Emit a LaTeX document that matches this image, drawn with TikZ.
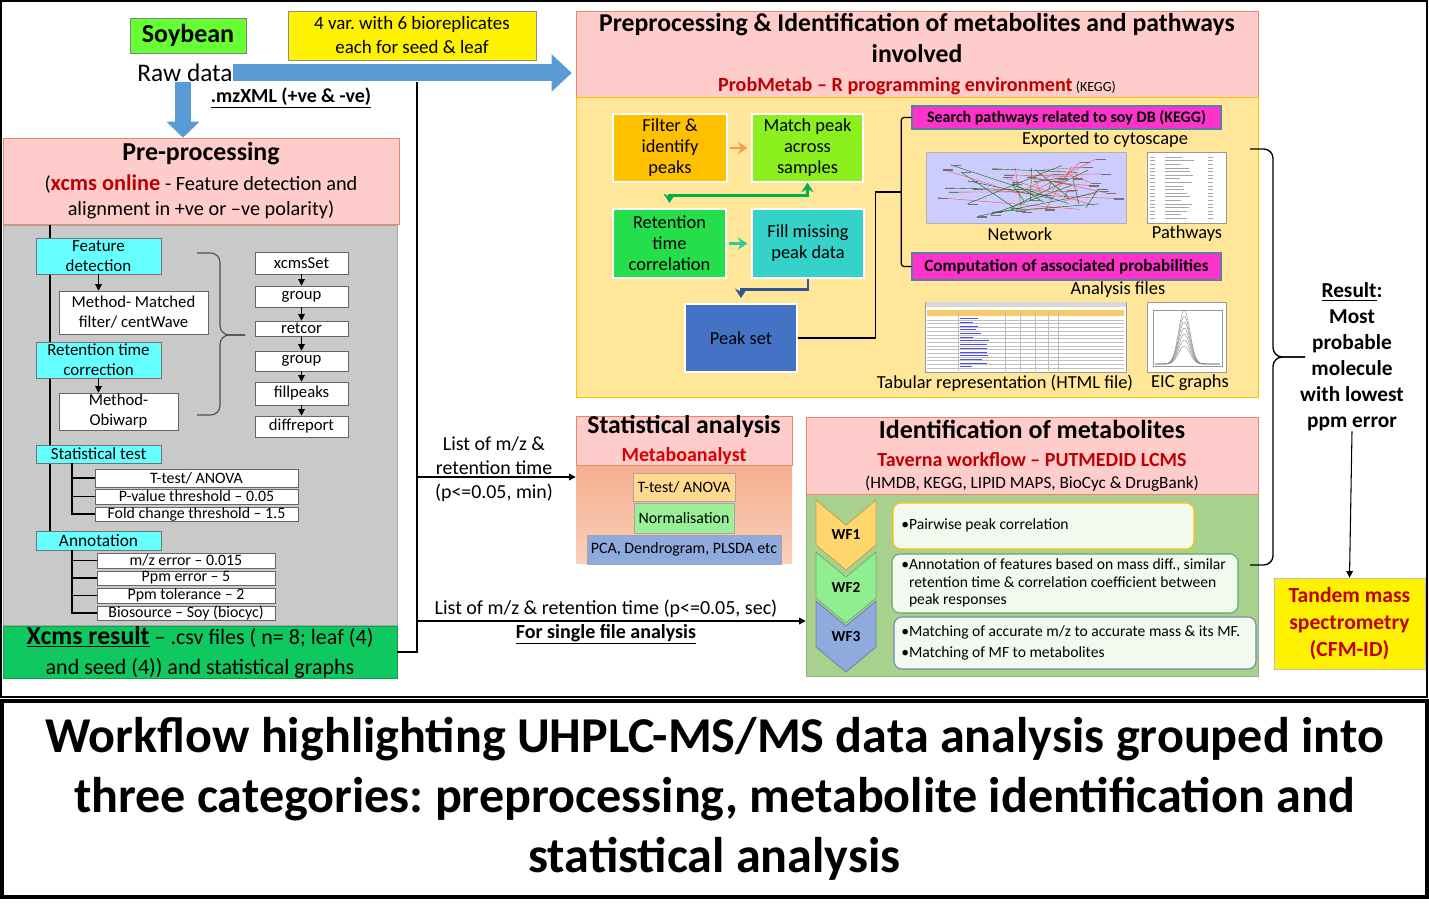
\documentclass[tikz,border=0pt]{standalone}
\usepackage{fontspec}
\setmainfont{Carlito}
\usetikzlibrary{arrows.meta,calc}

\newcommand{\fsz}[2]{\fontsize{#1}{#2}\selectfont}

\definecolor{soygreen}{HTML}{66FF33}
\definecolor{arrowblue}{HTML}{5B9BD5}
\definecolor{headpink}{HTML}{FFCCCC}
\definecolor{headline}{HTML}{E9856A}
\definecolor{panelgray}{HTML}{C9C9C9}
\definecolor{cyanfill}{HTML}{66FFFF}
\definecolor{resgreen}{HTML}{10C860}
\definecolor{darkred}{HTML}{C00000}
\definecolor{brightred}{HTML}{D80000}
\definecolor{panelyellow}{HTML}{FFE699}
\definecolor{gold}{HTML}{FFC000}
\definecolor{matchgreen}{HTML}{8CF01E}
\definecolor{rtgreen}{HTML}{24DE4B}
\definecolor{fillteal}{HTML}{34D2C8}
\definecolor{peakblue}{HTML}{4472C4}
\definecolor{orangearrow}{HTML}{F79A50}
\definecolor{flowgreen}{HTML}{00B050}
\definecolor{tealarrow}{HTML}{2CC9A0}
\definecolor{linkblue}{HTML}{2F5597}
\definecolor{magentabox}{HTML}{FF33CC}
\definecolor{magline}{HTML}{5B7FA0}
\definecolor{lavender}{HTML}{CCCCFF}
\definecolor{tabhead}{HTML}{F9C96A}
\definecolor{salmontop}{HTML}{F4AE8E}
\definecolor{salmonbot}{HTML}{FAD0BB}
\definecolor{ttestorange}{HTML}{FFD98F}
\definecolor{normgreen}{HTML}{99F099}
\definecolor{pcablue}{HTML}{8FAADC}
\definecolor{idgreen}{HTML}{A9D18E}
\definecolor{wfone}{HTML}{FFD56E}
\definecolor{wftwo}{HTML}{90EE90}
\definecolor{wfthree}{HTML}{8FAADC}
\definecolor{wfboxfill}{HTML}{F2F9EF}

\begin{document}
\frenchspacing
\begin{tikzpicture}[x=0.75pt, y=-0.75pt,
    every node/.style={inner sep=0pt},
    area/.style args={#1/#2/#3/#4}{at={({(#1+#3)/2},{(#2+#4)/2})},
      minimum width={(#3-#1)*0.75pt}, minimum height={(#4-#2)*0.75pt}},
    head/.style={fill=headpink, draw=headline, align=center},
    cyanbox/.style={fill=cyanfill, draw=black!55, align=center, font=\fsz{12.7}{15}},
    whitebox/.style={fill=white, draw=black!60, align=center, font=\fsz{12.5}{15}},
    treebox/.style={fill=white, draw=black!60, font=\fsz{11.9}{12}},
    flowbox/.style={draw=white, line width=1pt, align=center, font=\fsz{13.8}{15.75}},
    magbox/.style={fill=magentabox, draw=magline, line width=1pt, font=\bfseries\fsz{12}{13}},
    statbox/.style={draw=black!35, font=\fsz{11.9}{13}},
    wfbox/.style={fill=wfboxfill, rounded corners=6pt, line width=0.8pt},
    wftext/.style={anchor=west, align=left, font=\fsz{11.7}{13.2}},
    lbl/.style={font=\fsz{13.8}{15}},
    fatarrow/.style={draw=arrowblue, line width=12.75pt, -{Triangle[length=15pt,width=27pt]}},
    tip/.style={-{Triangle[length=5pt,width=5pt]}, line width=0.8pt},
    thickarrow/.style={line width=2.2pt, -{Stealth[length=7pt,width=9pt]}},
    bracket/.style={line width=1pt, rounded corners=7pt}]

\useasboundingbox (0,0) rectangle (1429,919);
\fill[white] (0,0) rectangle (1429,919);

% Outer frame and caption
\draw[line width=0.8pt] (1,1) rectangle (1427,697);
\node[area=2/701/1427/897, draw, line width=2.5pt, align=center,
      font=\bfseries\fsz{37.6}{45}] (caption)
  {Workflow highlighting UHPLC-MS/MS data analysis grouped into\\three categories: preprocessing, metabolite identification and\\statistical analysis};

% Raw data input
\node[area=130/18/246/53, fill=soygreen, draw=black!50, font=\bfseries\fsz{19.5}{20}] (soy) {Soybean};
\node[font=\fsz{19}{22}] (raw) at (185,73) {Raw data};
\node[area=288/11/536/60, fill=yellow, draw=black!45, align=center, font=\fsz{14.2}{18}] (var)
  {4 var. with 6 bioreplicates\\each for seed \& leaf};
\node[font=\bfseries\fsz{14.9}{16}] (mzxml) at (291,98) {\underline{.mzXML (+ve \& -ve)}};

% Pre-processing header and panel
\node[head, area=3/138/399/224, font=\fsz{15.2}{19}] (prehead)
  {{\bfseries\fsz{19.4}{22}Pre-processing}\\[3pt]({\bfseries\fsz{16.8}{19}\color{darkred}xcms online} - Feature detection and\\alignment in +ve or –ve polarity)};
\node[area=3/225/397/625, fill=panelgray, draw=black!35] (xpanel) {};

% Tree spine
\coordinate (spine) at (50,225);
\draw[line width=0.8pt] (spine) -- ++(0,306);

% Feature detection and retention time steps
\node[cyanbox, area=36/238/161/274] (featdet) {Feature\\detection};
\node[whitebox, area=59/291/208/334] (matched) {Method- Matched\\filter/ centWave};
\node[cyanbox, area=36/342/161/378] (rtcorr) {Retention time\\correction};
\node[whitebox, area=59/393/178/430] (obiwarp) {Method-\\Obiwarp};
\draw[tip] (featdet.south) -- (featdet.south |- matched.north);
\draw[tip] (rtcorr.south) -- (rtcorr.south |- obiwarp.north);

% xcms commands
\foreach \n/\t/\ya/\yb in {s1/xcmsSet/252/274, s2/group/286/307, s3/retcor/321/336,
                           s4/group/351/371, s5/fillpeaks/382/405, s6/diffreport/416/437}
  \node[whitebox, font=\fsz{12.5}{13}, area=255/\ya/348/\yb] (\n) {\t};
\foreach \a/\b in {s1/s2, s2/s3, s3/s4, s4/s5, s5/s6}
  \draw[tip] (\a) -- (\b);

\coordinate (bracetop) at (197,253);
\coordinate (bracebot) at (197,415);
\draw[bracket, black!70, line width=0.8pt] (bracetop) -- ++(23,0) -- ++(0,82) -- ++(25,0);
\draw[bracket, black!70, line width=0.8pt] (bracebot) -- ++(23,0) -- ++(0,-80) -- ++(25,0);

% Statistical test
\node[cyanbox, area=36/445/161/463] (stattest) {Statistical test};
\foreach \n/\t/\ya/\yb in {t1/{T-test/ ANOVA}/469/487, t2/{P-value threshold – 0.05}/489/504,
                           t3/{Fold change threshold – 1.5}/507/521}
  \node[treebox, area=95/\ya/298/\yb] (\n) {\t};
\coordinate (stbranch) at (72,463);
\foreach \n in {t1,t2,t3}
  \draw[line width=0.8pt] (stbranch) |- (\n.west);

% Annotation
\node[cyanbox, font=\fsz{13}{13}, area=36/531/161/550] (annot) {Annotation};
\foreach \n/\t/\ya/\yb in {a1/{m/z error – 0.015}/553/568, a2/{Ppm error – 5}/571/585,
                           a3/{Ppm tolerance – 2}/588/603, a4/{Biosource – Soy (biocyc)}/606/620}
  \node[treebox, area=97/\ya/275/\yb] (\n) {\t};
\coordinate (anbranch) at (72,550);
\foreach \n in {a1,a2,a3,a4}
  \draw[line width=0.8pt] (anbranch) |- (\n.west);

% Xcms result
\node[area=3/627/397/677, fill=resgreen, draw=resgreen!80!black, align=center, font=\fsz{16.5}{22.5}] (xres)
  {{\bfseries\fsz{19.3}{22.5}\underline{Xcms result}} – .csv files ( n= 8; leaf (4)\\and seed (4)) and statistical graphs};

% ProbMetab header and panel
\node[head, area=576/11/1258/97, font=\bfseries\fsz{19.3}{23.25}] (probhead)
  {Preprocessing \& Identification of metabolites and pathways\\involved\\[-2pt]{\fsz{15.1}{17}\color{darkred}ProbMetab – R programming environment}{\mdseries\fsz{10.5}{17} (KEGG)}};
\node[area=576/97/1258/397, fill=panelyellow, draw=gold] (probpanel) {};

% Big arrows from the raw data
\draw[fatarrow] (raw.east) -- ($(raw.east -| probhead.west)+(-4,0)$);
\draw[fatarrow, line width=12pt, -{Triangle[length=12pt,width=24pt]}] (raw.south -| 183,0) -- (prehead.north -| 183,0);

\node[flowbox, fill=gold, area=613/114/727/182] (filter) {Filter \&\\identify\\peaks};
\node[flowbox, fill=matchgreen, area=752/114/863/182] (match) {Match peak\\across\\samples};
\node[flowbox, fill=rtgreen, area=613/209/726/278] (rtc) {Retention\\time\\correlation};
\node[flowbox, fill=fillteal, area=752/209/864/278] (fillmiss) {Fill missing\\peak data};
\node[flowbox, fill=peakblue, area=685/304/797/372] (peakset) {Peak set};

\draw[thickarrow, orangearrow, shorten <=2pt, shorten >=3pt] (filter) -- (match);
\draw[thickarrow, tealarrow, shorten <=2pt, shorten >=3pt] (rtc) -- (fillmiss);
\draw[thickarrow, flowgreen, {Stealth[length=7pt,width=9pt]}-{Stealth[length=7pt,width=9pt]}, shorten >=4pt]
  (match.south) -- ++(0,13) -| (rtc.north);
\draw[thickarrow, linkblue, shorten >=4pt] (fillmiss.south) -- ++(0,11) -| (peakset.north);

% Pathway search and probabilities
\node[magbox, area=912/106/1221/129] (search) {Search pathways related to soy DB (KEGG)};
\node[magbox, font=\bfseries\fsz{12.9}{13}, area=912/253/1221/280] (compute) {Computation of associated probabilities};
\coordinate (join) at (902,192);
\draw[line width=0.9pt, rounded corners=2pt] (search.west) -- ++(-10,0) |- (compute.west);
\draw[line width=0.9pt] (peakset.east) -- ++(78,0) |- (join);

\node[lbl] (exported) at (1105,140) {Exported to cytoscape};
\node[lbl] (netlbl) at (1020,234) {Network};
\node[lbl] (pathlbl) at (1187,234) {Pathways};
\node[lbl] (analysis) at (1118,290) {Analysis files};
\node[lbl] (tablbl) at (1005,383) {Tabular representation (HTML file)};
\node[lbl] (eiclbl) at (1190,383) {EIC graphs};

% Network thumbnail
\node[area=926/152/1126/223, fill=lavender, draw=black!30] (netimg) {};
\begin{scope}
  \clip (926,152) rectangle (1126,223);
  \pgfmathsetseed{5}
  \foreach \i in {1,...,40} {
    \pgfmathsetmacro{\xa}{935+180*rnd}
    \pgfmathsetmacro{\ya}{157+60*rnd}
    \pgfmathsetmacro{\xb}{1010+90*rnd}
    \pgfmathsetmacro{\yb}{165+45*rnd}
    \ifodd\i\relax \def\lc{red!70}\else \def\lc{green!40!black}\fi
    \draw[\lc, line width=0.3pt] (\xa,\ya) -- (\xb,\yb);
    \fill[black!55] (\xa,\ya) rectangle ++(10,1.2);
  }
\end{scope}

% Pathways thumbnail
\node[area=1147/152/1226/223, fill=white, draw=black!40] (pathimg) {};
\foreach \k in {0,...,17} {
  \pgfmathsetmacro{\len}{14+16*rnd}
  \draw[black!35, line width=0.3pt] (1150,157+3.6*\k) -- ++(5,0)
    (1165,157+3.6*\k) -- ++(\len,0) (1208,157+3.6*\k) -- ++(5,0);
}

% Table thumbnail
\node[area=925/302/1126/372, fill=white, draw=black!40] (tabimg) {};
\fill[black!15] (925.5,302.5) rectangle (1125.5,307);
\fill[tabhead] (927,310) rectangle (1124,316);
\foreach \k in {0,...,13} {
  \pgfmathsetmacro{\len}{12+22*rnd}
  \draw[black!25, line width=0.3pt] (927,320+3.7*\k) -- (1124,320+3.7*\k);
  \draw[blue!70, line width=0.4pt] (960,318.5+3.7*\k) -- ++(\len,0);
}
\foreach \cx in {958,1005,1020,1035,1048,1058}
  \draw[black!25, line width=0.3pt] (\cx,310) -- (\cx,371);

% EIC thumbnail
\node[area=1147/302/1226/372, fill=white, draw=black!40] (eicimg) {};
\draw[black!40, line width=0.3pt] (1153,310) rectangle (1222,366);
\foreach \h in {18,24,...,54}
  \draw[black!45, line width=0.3pt, domain=0:1, samples=40, smooth]
    plot ({1155+65*\x}, {364-\h*exp(-((\x-0.45)^2)/0.015)});

% Statistical analysis
\node[area=576/464/792/564, top color=salmontop, bottom color=salmonbot] (statpanel) {};
\node[head, area=576/417/792/464, font=\bfseries\fsz{19.3}{21}] (stathead)
  {Statistical analysis\\{\fsz{15}{17}\color{brightred}Metaboanalyst}};
\node[statbox, fill=ttestorange, area=633/473/735/501] (ttest) {T-test/ ANOVA};
\node[statbox, fill=normgreen, area=634/503/734/533] (norm) {Normalisation};
\node[statbox, fill=pcablue, area=587/535/781/564] (pca) {PCA, Dendrogram, PLSDA etc};

% Identification of metabolites
\node[area=806/494/1258/676, fill=idgreen, draw=idgreen!85!black] (idpanel) {};
\node[head, area=806/417/1258/494, font=\bfseries\fsz{19.5}{21}] (idhead)
  {Identification of metabolites\\{\fsz{15}{20}\color{darkred}Taverna workflow – PUTMEDID LCMS}\\[-4.5pt]{\mdseries\fsz{12.9}{17}(HMDB, KEGG, LIPID MAPS, BioCyc \& DrugBank)}};

\foreach \n/\ya/\yb/\col in {1/500/570/wfone, 2/552/623/wftwo, 3/601/672/wfthree} {
  \filldraw[fill=\col, draw=\col!75!black, line width=0.6pt]
    (816,\ya) -- (846,\ya+25) -- (876,\ya) -- (876,\yb-25) -- (846,\yb) -- (816,\yb-25) -- cycle;
  \node[font=\bfseries\fsz{11.5}{13}] (wf\n) at (846,{(\ya+\yb)/2}) {WF\n};
}

\node[wfbox, draw=gold, area=893/503/1194/549] (wfb1) {};
\node[wfbox, draw=wftwo!70!black, area=892/554/1238/613] (wfb2) {};
\node[wfbox, draw=wfthree!80!black, area=894/617/1256/669] (wfb3) {};
\node[wftext] (wft1) at (901,525) {•Pairwise peak correlation};
\node[wftext] (wft2) at (901,583) {•Annotation of features based on mass diff., similar\\\phantom{•}retention time \& correlation coefficient between\\\phantom{•}peak responses};
\node[wftext] (wft3) at (901,643) {•Matching of accurate m/z to accurate mass \& its MF.\\[3pt]•Matching of MF to metabolites};

% Links from the xcms result
\coordinate (trunk) at (417,82);
\draw[line width=1pt] (xres.east) -| (trunk);
\coordinate (tapmin) at (417,477);
\coordinate (tapsec) at (417,621);
\draw[tip, line width=1pt] (tapmin) -- (tapmin -| statpanel.west);
\draw[tip, line width=1pt] (tapsec) -- (tapsec -| idpanel.west);
\node[align=center, font=\fsz{14.9}{18}] (minlist) at (494,469) {List of m/z \&\\retention time\\(p<=0.05, min)};
\node[font=\fsz{15}{16}] (seclist) at (606,609) {List of m/z \& retention time (p<=0.05, sec)};
\node[font=\bfseries\fsz{15}{16}] (single) at (606,634) {\underline{For single file analysis}};

% Result and tandem MS
\coordinate (rbtop) at (1250,149);
\coordinate (rbbot) at (1250,565);
\draw[bracket] (rbtop) -- ++(23,0) -- ++(0,208) -- ++(32,0);
\draw[bracket] (rbbot) -- ++(23,0) -- ++(0,-208) -- ++(32,0);
\node[align=center, font=\bfseries\fsz{16}{19.5}] (result) at (1352,357)
  {\underline{Result}:\\Most\\probable\\molecule\\with lowest\\ppm error};
\node[area=1274/578/1425/669, fill=yellow, draw=black!25, align=center,
      font=\bfseries\fsz{16.2}{20}, text=darkred] (tandem) {Tandem mass\\spectrometry\\(CFM-ID)};
\draw[tip] (result.south) -- (tandem.north);

\end{tikzpicture}
\end{document}
